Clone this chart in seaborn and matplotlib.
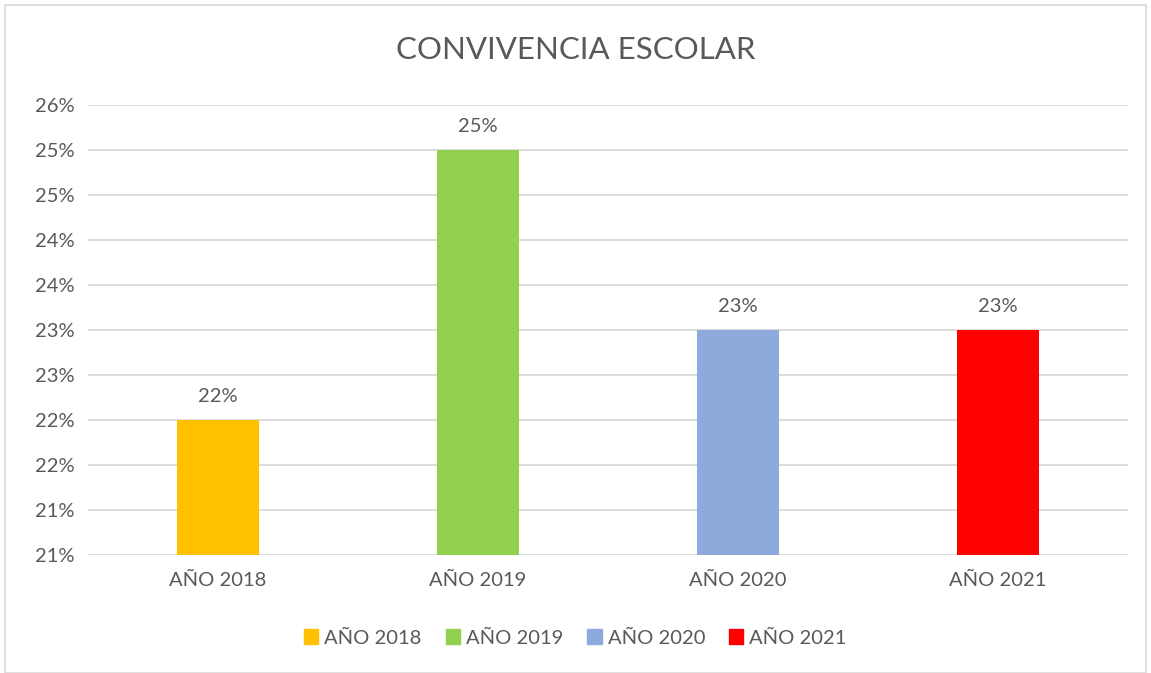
import pandas as pd
import matplotlib
matplotlib.use("Agg")
import matplotlib.pyplot as plt
import seaborn as sns
from matplotlib.patches import Rectangle

categories = ["AÑO 2018", "AÑO 2019", "AÑO 2020", "AÑO 2021"]
values = [0.22, 0.25, 0.23, 0.23]
colors = ["#FFC000", "#92D050", "#8EA9DB", "#FF0000"]
y_ticks = [0.205, 0.21, 0.215, 0.22, 0.225, 0.23, 0.235, 0.24, 0.245, 0.25, 0.255]
y_tick_labels = ["21%", "21%", "22%", "22%", "23%", "23%", "24%", "24%", "25%", "25%", "26%"]

df = pd.DataFrame({"anio": categories, "valor": values})

sns.set_theme(style="white")
plt.rcParams["font.family"] = ["Lato", "DejaVu Sans"]
text_color = "#595959"

fig = plt.figure(figsize=(11.51, 6.73), dpi=100)
ax = fig.add_axes([0.0765, 0.1753, 0.9035, 0.6687])

sns.barplot(data=df, x="anio", y="valor", hue="anio", palette=colors,
            dodge=False, width=0.315, legend=False, ax=ax, saturation=1,
            linewidth=0)

ax.set_ylim(0.205, 0.255)
ax.set_xlim(-0.5, 3.5)
ax.set_yticks(y_ticks)
ax.set_yticklabels(y_tick_labels)
ax.yaxis.grid(True, color="#D9D9D9", linewidth=1.3)
ax.set_axisbelow(True)
for s in ax.spines.values():
    s.set_visible(False)
ax.set_xlabel("")
ax.set_ylabel("")
ax.tick_params(axis="both", length=0, labelsize=14.5, colors=text_color)
ax.tick_params(axis="y", pad=10)
ax.tick_params(axis="x", pad=12)

for i, v in enumerate(values):
    ax.annotate(f"{v:.0%}", (i, v), xytext=(0, 11), textcoords="offset points",
                ha="center", va="bottom", fontsize=14.5, color=text_color)

fig.text(0.5, 1 - 50 / 673, "CONVIVENCIA ESCOLAR", ha="center", va="center",
         fontsize=22.5, color=text_color)

handles = [Rectangle((0, 0), 1, 1, color=c) for c in colors]
fig.legend(handles, categories, loc="center", bbox_to_anchor=(0.5, 1 - 638 / 673),
           ncol=4, frameon=False, fontsize=14.5, labelcolor=text_color,
           handlelength=0.7, handleheight=0.7, handletextpad=0.3, columnspacing=1.2)

fig.patches.append(Rectangle((5 / 1151, 0), 1 - 10 / 1151, 1 - 5 / 673,
                             transform=fig.transFigure, fill=False,
                             edgecolor="#D9D9D9", linewidth=1.2))

fig.savefig("out.png", dpi=100)
